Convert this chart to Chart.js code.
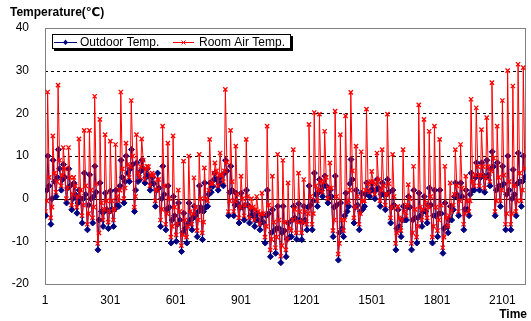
<!DOCTYPE html>
<html>
<head>
<meta charset="utf-8">
<script src="https://cdn.jsdelivr.net/npm/chart.js@4.4.0/dist/chart.umd.min.js"></script>
<style>
  html, body { margin: 0; padding: 0; background: #fff; }
  #wrap { width: 531px; height: 321px; position: relative; }
</style>
</head>
<body>
<div id="wrap"><canvas id="chart" width="531" height="321"></canvas></div>
<script>
// 92 days, four readings a day in degrees C
// outdoor: night low (04h), morning (09h), afternoon high (14h), evening (20h)
const outdoorMin = [-4, -6, 0.5, 2, -1, -2.6, -3.4, -5.7, -7.3, -5.7, -12, -6.5, -7,
  -6.5, -1.8, -1, 4, -3, 4.5, 3.7, 2, -1.8, -6.5, -7.3, -10.4, -10, -12.4, -10.4, -7.3, -8.9, -9.6, -1.8, 2.9, 2, 3, -4, -4, -5.7, -5, -5.7, -6.5, -7.3, -10.4, -13.6, -12.8, -15, -13.6, -8.9,
  -9.5,
  -9.6, -7.3, -7.3, -1.8, 0.5, -1, -8.9, -14.4, -8.9, -1.8, -5.7, -7.3, -1.8, 0.5, 0, -1.8, -2.6, -5.7, -12, -8.9, -5, -12, -10.4, -6.5, -5.7, -10.4, -8.9, -12.8, -8, -2.6, -4, -7.3, -4, 2, 2,
  1.5,
  3, -4, -1.8, -7.3, -7.3, -4, -1.8];
const outdoorMorning = [2, 0, 5, 4.5, 2.5, 0, -1, 0, -1.5, 0.5, -5, -3, -3,
  -2.5, 3, 4, 7, 2, 6.5, 5, 3.5, 2, 0, -2.5, -5, -6, -8, -6, -4.5, -3, -3, 1, 4.5, 3.5, 6, 1.5, -1.5, -2, -1.5, -4, -5, -5.5, -4, -8, -7, -8, -9.5, -5,
  -5,
  -5.5, -2, -0.5, 1.5, 3, 0.5, -2, -8, -4, 3.5, -2, -3, 1, 2, 2, 1, 1, -2, -7, -5, -2, -5, -4.5, -3, -1.5, -4, -3.5, -7, -5, 0.5, 0, -2.5, 1, 5, 5,
  5,
  7, 2, 3, 1, 0, 3.5, 4];
const outdoorMax = [10, 9, 11.5, 8, 7, 3.7, 2, 6, 5.6, 7.6, 3.7, 1.3, 1.8,
  2, 9, 10, 11.5, 8.4, 9, 7, 5, 6, 7.6, 3, 0.5, -1, -3.4, -1, -1.8, 3, 3.7, 3.7, 6, 5, 9, 7.6, 1.3, 1.3, 2, -2.6, -3.4, -4, 2, -2.6, -1.8, -1.8, -5.7, -1.8,
  -1.2,
  -1.8, 3, 6, 4.5, 5.3, 2, 5.3, -1, 1.3, 9.2, 2, 1.3, 3.7, 3.7, 4.5, 3.7, 4.5, 2, -2.6, -1.8, 0.5, 2, 1.3, 0.5, 2.5, 2, 2, -1, -1.8, 3.7, 3.7, 2, 6, 8.4, 8.4,
  9,
  11, 8.4, 7.6, 10, 6.8, 10.7, 10];
const outdoorEvening = [3, 4, 7, 5, 3, 1, 0, 1, 0, 1.5, -3, -2.5, -2.5,
  -1.5, 5, 6, 8, 4, 7, 5.5, 3.5, 2.5, 1, -2, -4, -5, -7, -5, -4, -2, -2, 1.5, 4.5, 3.5, 6.5, 2, -1, -2, -1.5, -4, -5, -5.5, -3.5, -7.5, -7, -7.5, -9, -4.5,
  -5,
  -5, -1.5, 1, 2, 3, 0.5, -1.5, -7, -3, 4.5, -1.5, -2.5, 1.5, 2, 2.5, 1, 1.5, -1.5, -6.5, -5, -2, -4.5, -4, -3, -1.5, -4, -3.5, -6.5, -5, 1, 0.5, -2.5, 2, 5.5, 5.5,
  5.5,
  7.5, 3, 3.5, 2, 1, 4, 5];

// room air: night low (03h), morning (09h), solar peak (13h), evening (20h)
const roomMin = [-3, -4.5, 1.5, 3, 0, -1.5, -2, -4, -6, -4.5, -10.5, -5, -5.5,
  -5, -0.5, 0, 5, -2, 5, 4.5, 3, -0.5, -5, -6, -9, -8.5, -11, -9, -6, -7.5, -8, -0.5, 3.5, 3, 4, -3, -3, -4.5, -4, -4.5, -5, -6, -9, -12, -11.5, -13.5, -12, -7.5,
  -8,
  -8, -6, -6, -0.5, 1.5, 0, -7.5, -13, -7.5, -0.5, -4.5, -6, -0.5, 1.5, 1, -0.5, -1.5, -4.5, -10.5, -7.5, -4, -10.5, -9, -5, -4.5, -9, -7.5, -11.5, -6.5, -1.5, -3, -6, -3, 3, 3,
  2.5,
  4, -3, -0.5, -6, -6, -3, -0.5];
const roomMorning = [-0.5, -2, 4, 5.5, 2.5, 1, 0.5, -1.5, -3.5, -2, -8, -2.5, -3,
  -2.5, 2, 2.5, 7.5, 0.5, 7.5, 7, 5.5, 2, -2.5, -3.5, -6.5, -6, -8.5, -6.5, -3.5, -5, -5.5, 2, 6, 5.5, 6.5, -0.5, -0.5, -2, -1.5, -2, -2.5, -3.5, -6.5, -9.5, -9, -11, -9.5, -5,
  -5.5,
  -5.5, -3.5, -3.5, 2, 4, 2.5, -5, -10.5, -5, 2, -2, -3.5, 2, 4, 3.5, 2, 1, -2, -8, -5, -1.5, -8, -6.5, -2.5, -2, -6.5, -5, -9, -4, 1, -0.5, -3.5, -0.5, 5.5, 5.5,
  5,
  6.5, -0.5, 2, -3.5, -3.5, -0.5, 2];
const roomMax = [25, 14.7, 26.6, 12, 12, 5, 14, 16, 16, 24, 18.6, 15, 13.5,
  12.7, 25, 13, 23, 15, 14, 7.6, 6, 4.5, 17, 13, 14.7, 2, 8.8, 10, 4.9, 10.4, 7.2, 13.9, 8.4, 10.7, 25.6, 16, 12.3, 5.3, 13.9, 0, 0.5, 1.3, 17, 5.3, 10.4, 9, 3.7, 11.5,
  6,
  4.5, 17.4, 20.2, 19.8, 15.8, 8.4, 20.5, 15, 19.4, 24.9, 12.3, 11, 21, 6.4, 10.7, 11.5, 19.8, 10.4, -1.8, 11.5, 3.3, 7.6, 22, 18.6, 15.8, 17, 13.9, 7.6, 3.7, 11.5, 12.7, 5.3, 23.3, 21.3, 16.2,
  19,
  27.2, 17, 23, 30, 26.4, 31.5, 30.7];
const roomEvening = [5, 6, 9, 7, 5, 3, 2, 3, 2, 3.5, -1, -0.5, -0.5,
  0.5, 7, 8, 10, 6, 9, 7.5, 5.5, 4.5, 3, 0, -2, -3, -5, -3, -2, 0, 0, 3.5, 6.5, 5.5, 8.5, 4, 1, 0, 0.5, -2, -3, -3.5, -1.5, -5.5, -5, -5.5, -7, -2.5,
  -3,
  -3, 0.5, 3, 4, 5, 2.5, 0.5, -5, -1, 6.5, 0.5, -0.5, 3.5, 4, 4.5, 3, 3.5, 0.5, -4.5, -3, 0, -2.5, -2, -1, 0.5, -2, -1.5, -4.5, -3, 3, 2.5, -0.5, 4, 7.5, 7.5,
  7.5,
  9.5, 5, 5.5, 4, 3, 6, 7];

const outdoorHours = [4, 9, 14, 20];
const roomHours = [3, 9, 13, 20];

const xTicks = [1, 301, 601, 901, 1201, 1501, 1801, 2101];
const yTicks = [-20, -10, 0, 10, 20, 30, 40];

const seriesNames = ['Outdoor Temp.', 'Room Air Temp.'];
const NAVY = '#000080';
const RED = '#ff0000';

const outdoorPts = [];
const roomPts = [];
outdoorMin.forEach((lo, d) => {
    [lo, outdoorMorning[d], outdoorMax[d], outdoorEvening[d]].forEach((v, i) => {
        outdoorPts.push({ x: d * 24 + outdoorHours[i], y: v });
    });
    [roomMin[d], roomMorning[d], roomMax[d], roomEvening[d]].forEach((v, i) => {
        roomPts.push({ x: d * 24 + roomHours[i], y: v });
    });
});

const FONT = '"Liberation Sans", Arial, "DejaVu Sans", sans-serif';

// grid lines + frame under the data, titles and legend box on top
const gridPlugin = {
    id: 'grid',
    beforeDatasetsDraw(chart) {
        const { ctx, chartArea: a, scales } = chart;
        ctx.save();
        ctx.lineWidth = 1;
        ctx.strokeStyle = '#000';
        yTicks.forEach(v => {
            if (v === 40 || v === -20) return;
            const y = Math.round(scales.y.getPixelForValue(v)) + 0.5;
            ctx.setLineDash(v === 0 ? [] : [3, 3]);
            ctx.beginPath();
            ctx.moveTo(a.left, y);
            ctx.lineTo(a.right, y);
            ctx.stroke();
        });
        ctx.setLineDash([]);
        ctx.strokeStyle = '#808080';
        ctx.strokeRect(Math.round(a.left) + 0.5, Math.round(a.top) + 0.5,
            Math.round(a.right - a.left) - 1, Math.round(a.bottom - a.top));
        ctx.restore();
    },
    afterDraw(chart) {
        const { ctx } = chart;
        ctx.save();
        ctx.fillStyle = '#000';
        ctx.textBaseline = 'middle';
        ctx.font = 'bold 12px ' + FONT;
        ctx.textAlign = 'left';
        ctx.fillText('Temperature(℃)', 10, 13);
        ctx.textAlign = 'right';
        ctx.fillText('Time', 527, 315);

        // legend box with shadow
        const bx = 52, by = 34, bw = 239, bh = 15;
        ctx.fillStyle = '#000';
        ctx.fillRect(bx + 2, by + 2, bw, bh);
        ctx.fillStyle = '#fff';
        ctx.fillRect(bx, by, bw, bh);
        ctx.strokeStyle = '#000';
        ctx.lineWidth = 1;
        ctx.strokeRect(bx + 0.5, by + 0.5, bw - 1, bh - 1);

        const ly = 42;
        ctx.strokeStyle = NAVY;
        ctx.beginPath(); ctx.moveTo(54, ly + 0.5); ctx.lineTo(77, ly + 0.5); ctx.stroke();
        ctx.fillStyle = NAVY;
        ctx.beginPath();
        ctx.moveTo(65.5, ly - 2.5); ctx.lineTo(68, ly + 0.5); ctx.lineTo(65.5, ly + 3); ctx.lineTo(63, ly + 0.5);
        ctx.closePath(); ctx.fill();
        ctx.strokeStyle = RED;
        ctx.beginPath(); ctx.moveTo(173, ly + 0.5); ctx.lineTo(194, ly + 0.5); ctx.stroke();
        ctx.beginPath();
        ctx.moveTo(181.5, ly - 1.5); ctx.lineTo(185.5, ly + 2.5);
        ctx.moveTo(185.5, ly - 1.5); ctx.lineTo(181.5, ly + 2.5);
        ctx.stroke();

        ctx.fillStyle = '#000';
        ctx.textAlign = 'left';
        ctx.font = '12px ' + FONT;
        ctx.fillText(seriesNames[0], 80, ly + 1);
        ctx.fillText(seriesNames[1], 199, ly + 1);
        ctx.restore();
    }
};

new Chart(document.getElementById('chart'), {
    type: 'line',
    data: {
        datasets: [{
            label: seriesNames[0],
            data: outdoorPts,
            order: 1,
            borderColor: NAVY,
            backgroundColor: NAVY,
            borderWidth: 1,
            pointStyle: 'rectRot',
            pointRadius: 3,
            pointBorderWidth: 1,
            tension: 0
        }, {
            // second series drawn over the first, like the original
            label: seriesNames[1],
            data: roomPts,
            order: 0,
            borderColor: RED,
            backgroundColor: RED,
            borderWidth: 1,
            pointStyle: 'crossRot',
            pointRadius: 3,
            pointBorderWidth: 1.3,
            tension: 0
        }]
    },
    options: {
        responsive: false,
        animation: false,
        layout: { padding: { top: 28, right: 4, left: 0, bottom: 0 } },
        plugins: {
            legend: { display: false },
            tooltip: { enabled: false }
        },
        scales: {
            x: {
                type: 'linear',
                min: 1,
                max: 2208,
                grid: { display: false, drawTicks: false },
                border: { display: false },
                afterBuildTicks: (scale) => { scale.ticks = xTicks.map(v => ({ value: v })); },
                afterFit: (scale) => { scale.height = 37; },
                ticks: {
                    autoSkip: false,
                    maxRotation: 0,
                    padding: 9,
                    color: '#000',
                    font: { family: FONT, size: 12 },
                    callback: (v) => String(v)
                }
            },
            y: {
                min: -20,
                max: 40,
                grid: { display: false, drawTicks: false },
                border: { display: false },
                afterBuildTicks: (scale) => { scale.ticks = yTicks.map(v => ({ value: v })); },
                afterFit: (scale) => { scale.width = 45; },
                ticks: {
                    padding: 16,
                    color: '#000',
                    font: { family: FONT, size: 12 },
                    callback: (v) => String(v)
                }
            }
        }
    },
    plugins: [gridPlugin]
});
</script>
</body>
</html>
